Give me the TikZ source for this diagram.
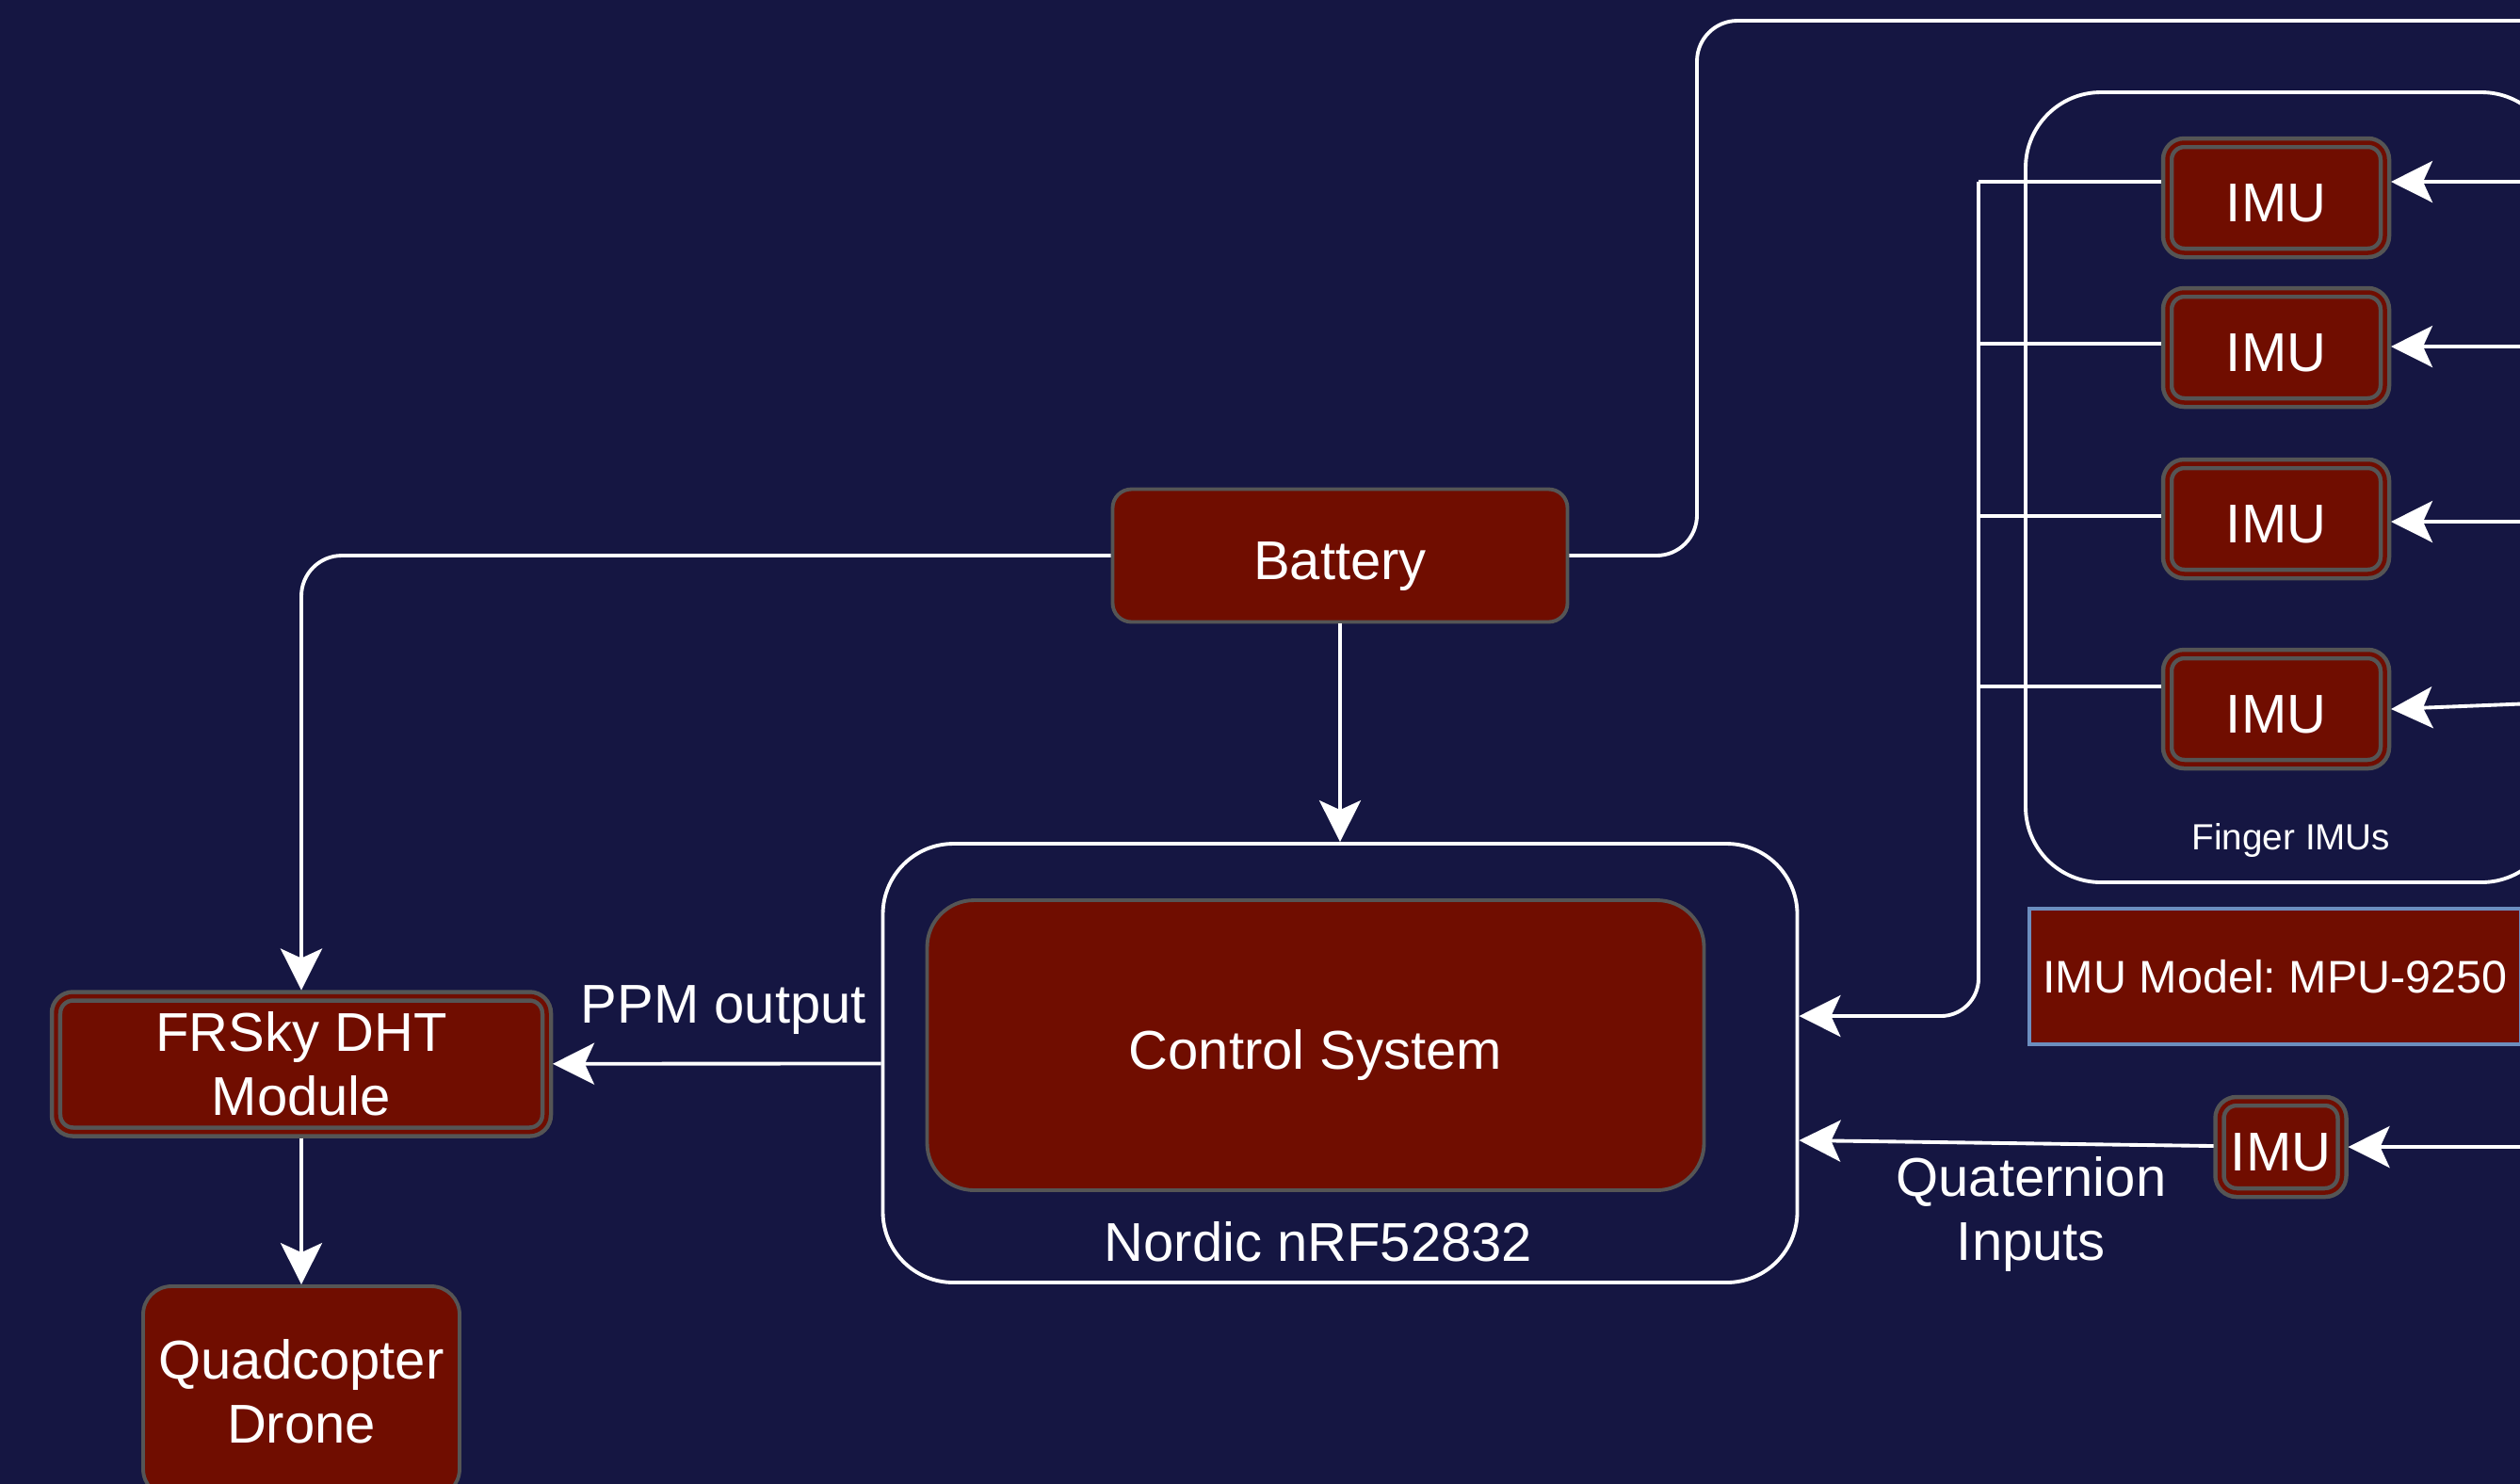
\documentclass[tikz,border=0pt]{standalone}
\usepackage{fontspec}
\setmainfont{Liberation Sans}
\usetikzlibrary{arrows.meta}

\definecolor{navy}{HTML}{151642}
\definecolor{brick}{HTML}{700D00}
\definecolor{edge}{HTML}{555555}
\definecolor{steel}{HTML}{6C8EBF}

\begin{document}
\begin{tikzpicture}[auto, white, line width=1.1pt,
    font=\fontsize{16.5}{19.4}\selectfont,
    block/.style={rectangle, draw=edge, fill=brick, text=white, text centered, rounded corners=0.2cm, inner sep=0pt},
    module/.style={block, line width=0.045cm, double=brick, double distance=0.045cm, rounded corners=0.18cm, outer sep=0.065cm},
    imu/.style={module, oneline, minimum width=2.31cm, minimum height=1.17cm},
    oneline/.style={text height=0.50cm, text depth=0pt},
    group/.style={rectangle, draw=white, rounded corners=0.75cm, inner sep=0pt},
    note/.style={rectangle, draw=steel, fill=brick, text=white, inner sep=0pt},
    wire/.style={draw=white, line width=1.1pt},
    arrow/.style={wire, -{Stealth[length=0.44cm, width=0.44cm, inset=0.1cm]}}]

% Background
\useasboundingbox (0,0) rectangle (26.76,-15.75);
\clip (0,0) rectangle (26.76,-15.75);
\fill[navy] (-1,1) rectangle (28,-17);

% Nodes
\node [block, oneline, minimum width=4.83cm, minimum height=1.41cm] (battery) at (14.23,-5.90) {Battery};
\node [group, minimum width=9.71cm, minimum height=4.66cm, below of=battery, node distance=5.39cm] (nordic) {};
\node [block, oneline, minimum width=8.25cm, minimum height=3.08cm, rounded corners=0.5cm] (control) at (13.97,-11.10) {Control System};
\node (nordiclbl) at (14.00,-13.19) {Nordic nRF52832};

\node [module, minimum width=5.21cm, minimum height=1.44cm, align=center] (frsky) at (3.20,-11.30) {FRSky DHT\\Module};
\node [block, minimum width=3.36cm, minimum height=2.24cm, rounded corners=0.3cm, align=center, below of=frsky, node distance=3.48cm] (drone) {Quadcopter\\Drone};

\node [group, minimum width=5.64cm, minimum height=8.39cm, rounded corners=0.8cm] (fingers) at (24.33,-5.175) {};
\node [font=\fontsize{11}{13}\selectfont] (fingerlbl) at (24.33,-8.92) {Finger IMUs};
\node [imu] (imu1) at (24.17,-2.10) {IMU};
\node [imu, below of=imu1, node distance=1.59cm] (imu2) {IMU};
\node [imu, below of=imu2, node distance=1.82cm] (imu3) {IMU};
\node [imu, below of=imu3, node distance=2.02cm] (imu4) {IMU};

\node [note, minimum width=5.22cm, minimum height=1.44cm, font=\fontsize{13.8}{16}\selectfont] (model) at (24.16,-10.37) {IMU Model:\ MPU-9250};
\node [module, oneline, minimum width=1.30cm, minimum height=0.97cm] (handimu) at (24.22,-12.18) {IMU};

\coordinate (pwrtop) at (18.02,-0.22);
\coordinate (pwrout) at (26.9,-0.22);
\coordinate (bus) at (21.01,-1.93);
\coordinate (feed) at (26.9,0);

% Arrows
\draw[wire, rounded corners=0.43cm] (battery.east) -| (pwrtop) -- (pwrout);
\draw[arrow, rounded corners=0.43cm] (battery.west) -| (frsky.north);
\draw[arrow] (battery) -- (nordic);
\draw[arrow] (nordic) -- node[above=0.17cm, xshift=0.07cm] {PPM output} (frsky);
\draw[arrow] (frsky) -- (drone);

\foreach \i/\dy in {1/0.17, 2/0.04, 3/0.03, 4/0.24}
  \draw[wire] ([yshift=\dy cm]imu\i.west) coordinate (tap\i) -- (tap\i -| bus);
\draw[arrow, rounded corners=0.4cm] (bus) |- ([yshift=0.5cm]nordic.east);

\foreach \i/\dy/\dz in {1/0.17/0.17, 2/0.01/0.01, 3/-0.03/-0.03, 4/0.06/0}
  \draw[arrow] ([yshift=\dy cm]imu\i.east -| feed) -- ([yshift=\dz cm]imu\i.east);
\draw[arrow] (handimu.east -| feed) -- (handimu.east);
\draw[arrow] ([yshift=0.01cm]handimu.west) -- node[below, pos=0.44, align=center] {Quaternion\\Inputs} ([yshift=-0.82cm]nordic.east);

\end{tikzpicture}
\end{document}
